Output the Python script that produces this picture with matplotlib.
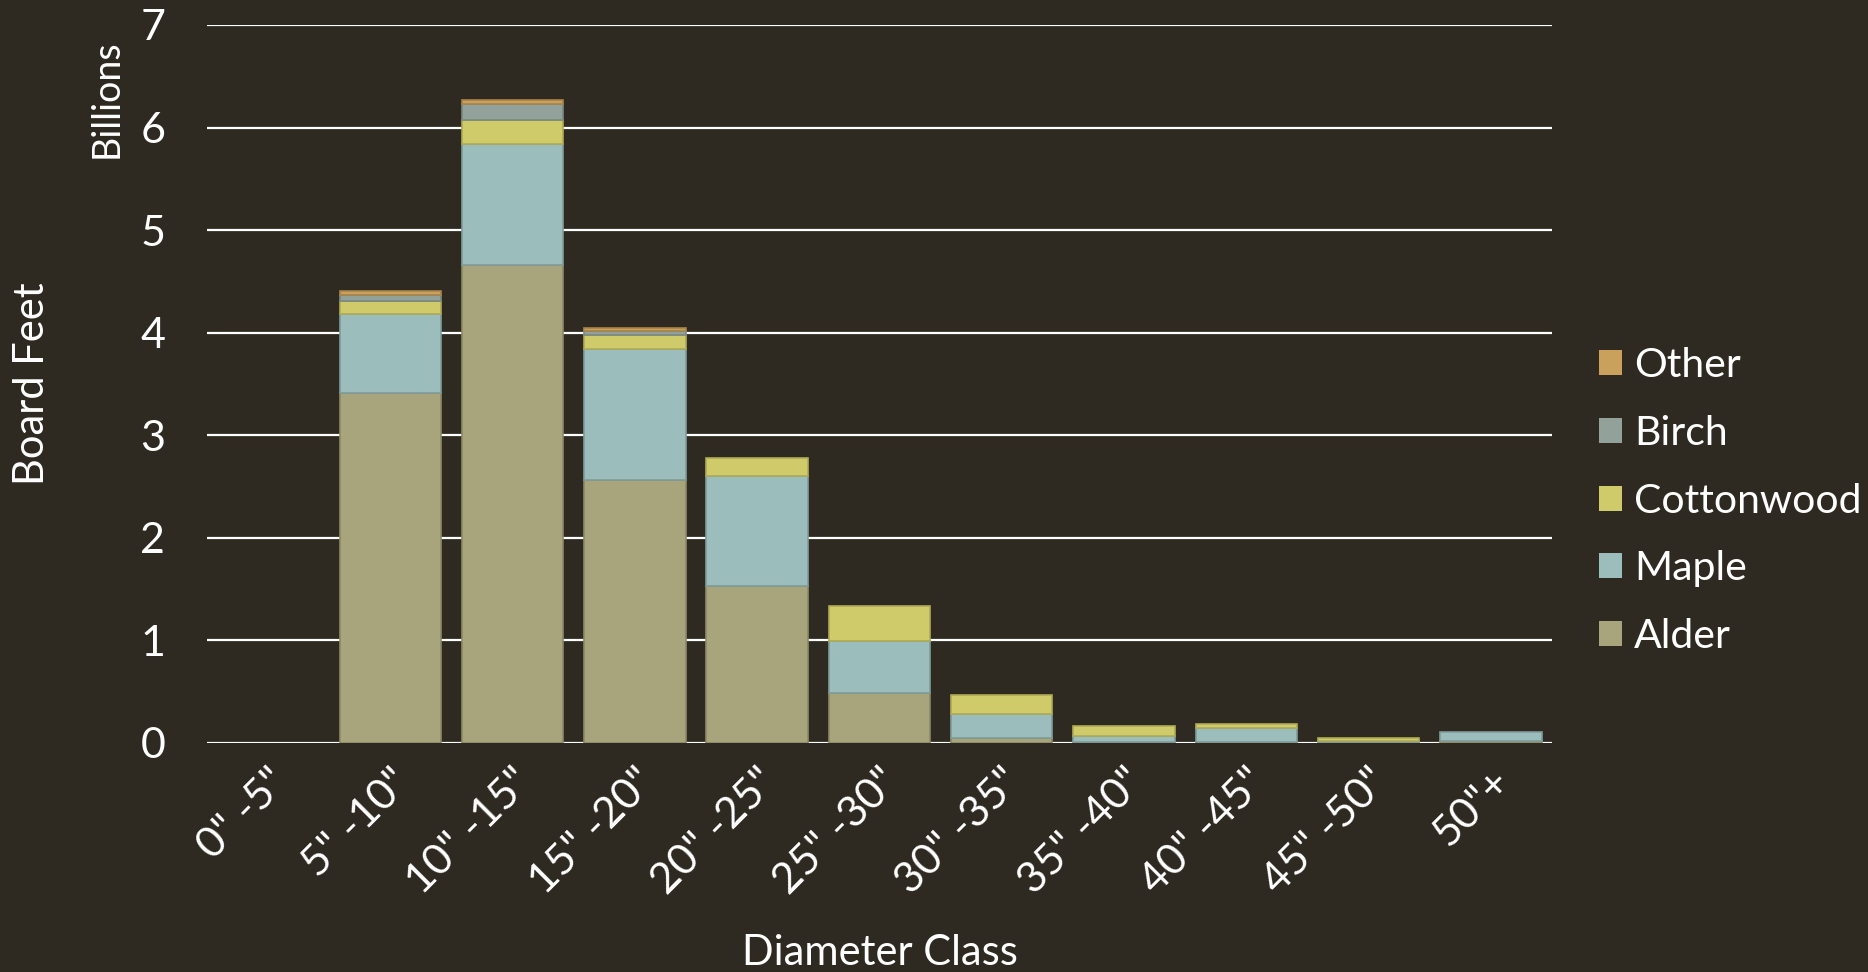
import matplotlib.pyplot as plt
from matplotlib.patches import Patch
import numpy as np

# diameter classes and board feet (billions) per species
classes = ['0" -5"', '5" -10"', '10" -15"', '15" -20"', '20" -25"', '25" -30"',
           '30" -35"', '35" -40"', '40" -45"', '45" -50"', '50"+']
alder = [0, 3.41, 4.66, 2.56, 1.53, 0.48, 0.05, 0.01, 0.01, 0.005, 0.02]
maple = [0, 0.77, 1.18, 1.28, 1.07, 0.51, 0.23, 0.06, 0.13, 0.015, 0.08]
cottonwood = [0, 0.13, 0.23, 0.14, 0.18, 0.34, 0.19, 0.09, 0.04, 0.025, 0.0]
birch = [0, 0.06, 0.16, 0.04, 0.0, 0.0, 0.0, 0.0, 0.0, 0.0, 0.0]
other = [0, 0.04, 0.04, 0.02, 0.0, 0.0, 0.0, 0.0, 0.0, 0.0, 0.0]

species = ['Alder', 'Maple', 'Cottonwood', 'Birch', 'Other']
series = [alder, maple, cottonwood, birch, other]
colors = ['#A8A57C', '#9BBDBC', '#D0CB6A', '#93A19B', '#C9A05C']
edges = ['#8C8A66', '#7F9C9A', '#AFAA55', '#7A8882', '#A8844A']

BG = '#2E2A21'
plt.rcParams['font.family'] = ['Lato', 'DejaVu Sans']

fig = plt.figure(figsize=(18.68, 9.72), dpi=100, facecolor=BG)
ax = fig.add_axes([0.1108, 0.2359, 0.72, 0.7384], facecolor=BG)

x = np.arange(len(classes))
bottom = np.zeros(len(classes))
for vals, c, ec in zip(series, colors, edges):
    v = np.array(vals)
    bars = ax.bar(x, v, bottom=bottom, width=0.83, color=c, edgecolor=ec,
                  linewidth=1.2, zorder=3)
    for b, val in zip(bars, v):
        if val == 0:
            b.set_visible(False)
    bottom += v

ax.set_xlim(-0.5, len(classes) - 0.5)
ax.set_ylim(0, 7)
ax.set_yticks(range(0, 8))
ax.yaxis.grid(True, color='white', linewidth=1.6, zorder=0)
ax.set_axisbelow(True)
for s in ax.spines.values():
    s.set_visible(False)
ax.tick_params(axis='both', length=0, colors='white', labelsize=31)
ax.tick_params(axis='y', pad=30)
ax.set_xticks(x)
ax.set_xticklabels(classes, rotation=45, ha='right', rotation_mode='anchor')
ax.tick_params(axis='x', pad=14)

fig.text(0.017, 0.605, 'Board Feet', rotation=90, color='white', fontsize=30,
         ha='center', va='center')
fig.text(0.057, 0.898, 'Billions', rotation=90, color='white', fontsize=27,
         ha='center', va='center')
fig.text(0.4708, 0.02, 'Diameter Class', color='white', fontsize=30,
         ha='center', va='center')

handles = [Patch(facecolor=c) for c in colors][::-1]
leg = fig.legend(handles, species[::-1], loc='center left',
                 bbox_to_anchor=(0.856, 0.4845), frameon=False, fontsize=29.5,
                 handlelength=0.56, handleheight=0.56, handletextpad=0.3,
                 labelspacing=0.75, borderaxespad=0, borderpad=0)
for t in leg.get_texts():
    t.set_color('white')

fig.savefig('out.png', dpi=100, facecolor=BG)
